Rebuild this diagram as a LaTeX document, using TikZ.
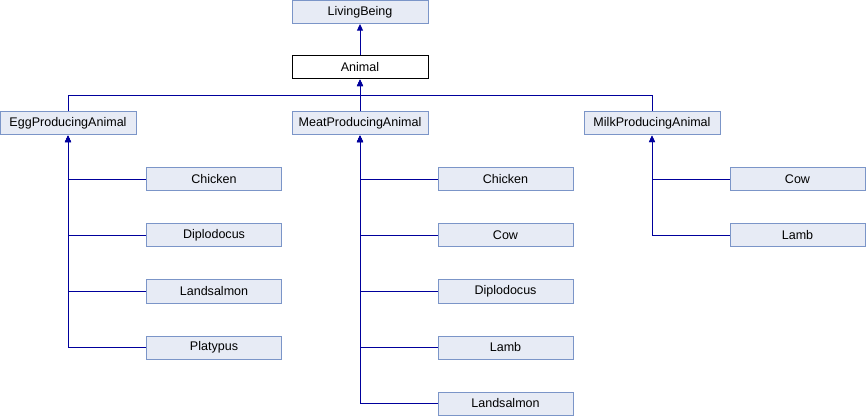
\documentclass[tikz,border=0pt]{standalone}
\usepackage{fontspec}
\setmainfont{Liberation Sans}
\usetikzlibrary{arrows.meta,positioning,calc}
\definecolor{Edge}{HTML}{00009C}
\definecolor{BoxLine}{HTML}{7B95C8}
\definecolor{BoxFill}{HTML}{E7EBF5}

\begin{document}
\begin{tikzpicture}[x=0.75pt,y=-0.75pt,
  cls/.style={draw=BoxLine,fill=BoxFill,line width=0.75pt,minimum width=102pt,
    minimum height=17.25pt,inner sep=0pt,font=\fontsize{9.4}{11}\selectfont},
  sub/.style={cls,minimum width=101.25pt},
  here/.style={draw=black,fill=white,line width=0.75pt,minimum width=102pt,
    minimum height=17.25pt,inner sep=0pt,font=\fontsize{9.4}{11}\selectfont},
  arrow/.style={-{Triangle[length=5pt,width=4.5pt]},line width=0.75pt,Edge}]
  \useasboundingbox (0,0) rectangle (866,416);

  \node[cls] (living) at (360,12) {LivingBeing};
  \node[here] (animal) at (360,67.5) {Animal};
  \node[cls] (egg) at (68,123.5) {EggProducingAnimal};
  \node[cls] (meat) at (360,123.5) {MeatProducingAnimal};
  \node[cls] (milk) at (652,123.5) {MilkProducingAnimal};

  \node[sub] (eggA) at (214,179.5) {Chicken};
  \node[sub] (eggB) at (214,235.5) {Diplodocus};
  \node[sub] (eggC) at (214,291.5) {Landsalmon};
  \node[sub] (eggD) at (214,347.5) {Platypus};

  \node[sub] (meatA) at (505.5,179.5) {Chicken};
  \node[sub] (meatB) at (505.5,235.5) {Cow};
  \node[sub] (meatC) at (505.5,291.5) {Diplodocus};
  \node[sub] (meatD) at (505.5,347.5) {Lamb};
  \node[sub] (meatE) at (505.5,403.5) {Landsalmon};

  \node[sub] (milkA) at (797.5,179.5) {Cow};
  \node[sub] (milkB) at (797.5,235.5) {Lamb};

  \coordinate (bus) at (360,96);
  \draw[arrow] (animal) -- (living);
  \draw[arrow] (meat) -- (animal);
  \draw[arrow] (egg.north) |- (bus) -- (animal.south);
  \draw[arrow] (milk.north) |- (bus) -- (animal.south);

  \draw[arrow] (eggA.west) -| (egg.south);
  \draw[arrow] (eggB.west) -| (egg.south);
  \draw[arrow] (eggC.west) -| (egg.south);
  \draw[arrow] (eggD.west) -| (egg.south);

  \draw[arrow] (meatA.west) -| (meat.south);
  \draw[arrow] (meatB.west) -| (meat.south);
  \draw[arrow] (meatC.west) -| (meat.south);
  \draw[arrow] (meatD.west) -| (meat.south);
  \draw[arrow] (meatE.west) -| (meat.south);

  \draw[arrow] (milkA.west) -| (milk.south);
  \draw[arrow] (milkB.west) -| (milk.south);
\end{tikzpicture}
\end{document}
